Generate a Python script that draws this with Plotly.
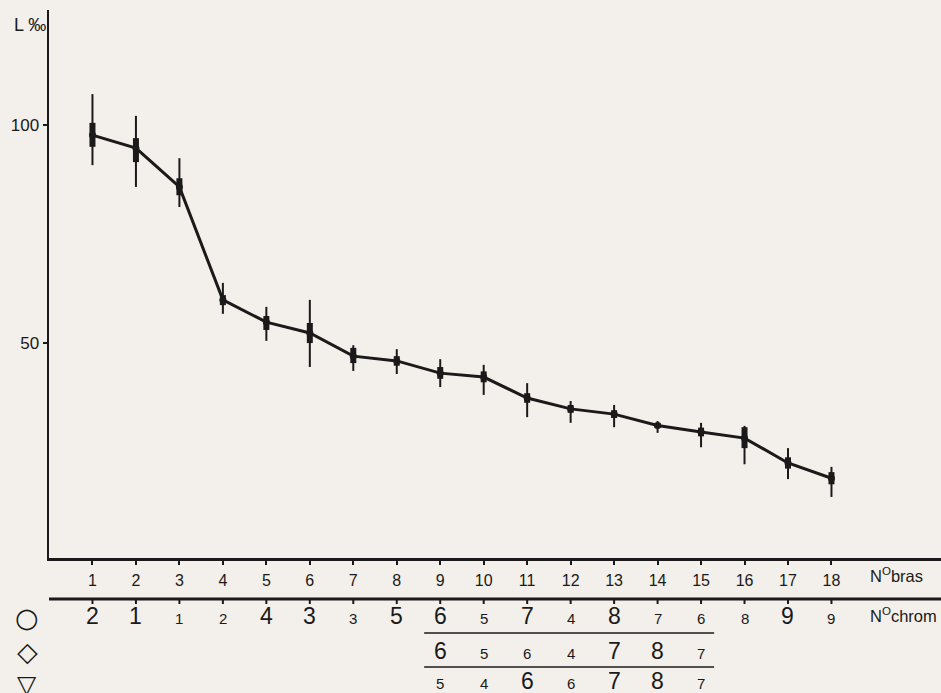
import plotly.graph_objects as go

# ---------------- data ----------------
arm_no = list(range(1, 19))
mean_len = [97.7, 94.7, 85.8, 59.9, 54.8, 52.3, 47.0, 45.9, 43.1, 42.2, 37.4, 34.9, 33.7, 31.1, 29.6, 28.2, 22.5, 19.0]
range_hi = [107.1, 102.1, 92.4, 63.8, 58.3, 59.9, 49.5, 48.6, 46.3, 45.0, 40.8, 36.7, 35.8, 32.1, 31.7, 31.0, 25.9, 21.6]
range_lo = [90.8, 85.8, 81.2, 56.7, 50.5, 44.5, 43.6, 42.9, 39.9, 38.1, 33.0, 31.7, 30.7, 29.4, 26.1, 22.2, 18.8, 14.7]
sd_hi = [100.5, 97.0, 87.8, 61.0, 56.2, 54.6, 48.9, 47.0, 44.5, 43.5, 38.5, 35.8, 34.6, 31.7, 30.6, 30.7, 23.8, 20.4]
sd_lo = [95.0, 91.5, 83.9, 58.7, 53.0, 50.0, 45.4, 44.8, 41.8, 41.0, 36.3, 34.0, 32.8, 30.5, 28.6, 25.9, 21.2, 17.6]

y_ticks = [50, 100]

# chromosome numbers (row: circle)
chrom_circle = ["2", "1", "1", "2", "4", "3", "3", "5", "6", "5", "7", "4", "8", "7", "6", "8", "9", "9"]
big_circle = [1, 1, 0, 0, 1, 1, 0, 1, 1, 0, 1, 0, 1, 0, 0, 0, 1, 0]
# rows diamond / triangle (arms 9..15)
sub_arms = [9, 10, 11, 12, 13, 14, 15]
chrom_diamond = ["6", "5", "6", "4", "7", "8", "7"]
big_diamond = [1, 0, 0, 0, 1, 1, 0]
chrom_triangle = ["5", "4", "6", "6", "7", "8", "7"]
big_triangle = [0, 0, 1, 0, 1, 1, 0]

# ---------------- geometry helpers ----------------
W, H = 941, 693
ML, MR, MT, MB = 49, 0, 10, 135
PW, PH = W - ML - MR, H - MT - MB
X_PX_PER_UNIT = 43.47
Y_PX_PER_UNIT = 4.36
X_RANGE = [0, PW / X_PX_PER_UNIT]
Y_RANGE = [0.7, 0.7 + PH / Y_PX_PER_UNIT]


def py(pix_y):
    """page pixel y -> paper y"""
    return (H - MB - pix_y) / PH


def px(pix_x):
    """page pixel x -> paper x"""
    return (pix_x - ML) / PW


INK = "#1b1919"
BG = "#f3f0eb"
FONT = "Liberation Sans, Arial, Helvetica, sans-serif"

fig = go.Figure()

# thin range bars + connecting line
fig.add_trace(go.Scatter(
    x=arm_no, y=mean_len, mode="lines",
    line=dict(color=INK, width=3),
    error_y=dict(type="data", symmetric=False,
                 array=[h - m for h, m in zip(range_hi, mean_len)],
                 arrayminus=[m - l for m, l in zip(mean_len, range_lo)],
                 color=INK, thickness=2, width=0),
    hoverinfo="skip", showlegend=False,
))
# thick (sd) bars
sd_mid = [(h + l) / 2 for h, l in zip(sd_hi, sd_lo)]
fig.add_trace(go.Scatter(
    x=arm_no, y=sd_mid, mode="markers",
    marker=dict(size=1, color=INK),
    error_y=dict(type="data", symmetric=False,
                 array=[h - m for h, m in zip(sd_hi, sd_mid)],
                 arrayminus=[m - l for m, l in zip(sd_mid, sd_lo)],
                 color=INK, thickness=6, width=0),
    hoverinfo="skip", showlegend=False,
))
fig.add_trace(go.Scatter(
    x=arm_no, y=mean_len, mode="markers",
    marker=dict(size=7, color=INK),
    hoverinfo="skip", showlegend=False,
))

shapes = []
annotations = []

# second baseline (N° chrom axis) with ticks
shapes.append(dict(type="line", xref="paper", yref="paper",
                   x0=0, x1=1, y0=py(599), y1=py(599),
                   line=dict(color=INK, width=3)))
for a in arm_no:
    shapes.append(dict(type="line", xref="x", yref="paper",
                       x0=a, x1=a, y0=py(599), y1=py(604),
                       line=dict(color=INK, width=2)))

# separator lines under circle & diamond rows
for yy in (633, 667):
    shapes.append(dict(type="line", xref="x", yref="paper",
                       x0=sub_arms[0] - 0.37, x1=sub_arms[-1] + 0.3,
                       y0=py(yy), y1=py(yy),
                       line=dict(color=INK, width=1.3)))


def add_row(xs, labels, bigs, y_pix):
    for x, t, b in zip(xs, labels, bigs):
        annotations.append(dict(
            x=x, y=py(y_pix + (0 if b else 2)), xref="x", yref="paper",
            text=t, showarrow=False, xanchor="center", yanchor="middle",
            font=dict(family=FONT, size=23 if b else 15, color=INK)))


add_row(arm_no, chrom_circle, big_circle, 616)
add_row(sub_arms, chrom_diamond, big_diamond, 651)
add_row(sub_arms, chrom_triangle, big_triangle, 681)

# row symbols
for sym, yy, sz in (("○", 617, 27), ("◇", 651, 27), ("▽", 684, 25)):
    annotations.append(dict(x=px(27), y=py(yy), xref="paper", yref="paper",
                            text=sym, showarrow=False, xanchor="center", yanchor="middle",
                            font=dict(family="DejaVu Sans", size=sz, color=INK)))

# row titles
annotations.append(dict(x=px(868), y=py(575), xref="paper", yref="paper",
                        text="N<sup>O</sup>bras", showarrow=False,
                        xanchor="left", yanchor="middle",
                        font=dict(family=FONT, size=16.5, color=INK)))
annotations.append(dict(x=px(868), y=py(615), xref="paper", yref="paper",
                        text="N<sup>O</sup>chrom", showarrow=False,
                        xanchor="left", yanchor="middle",
                        font=dict(family=FONT, size=16.5, color=INK)))
# y-axis title
annotations.append(dict(x=px(12), y=py(25), xref="paper", yref="paper",
                        text="L ‰", showarrow=False,
                        xanchor="left", yanchor="middle",
                        font=dict(family=FONT, size=18, color=INK)))

fig.update_layout(
    width=W, height=H,
    margin=dict(l=ML, r=MR, t=MT, b=MB, pad=0),
    paper_bgcolor=BG, plot_bgcolor=BG,
    shapes=shapes, annotations=annotations,
    font=dict(family=FONT, color=INK),
    xaxis=dict(range=X_RANGE, showgrid=False, zeroline=False,
               showline=True, linecolor=INK, linewidth=2.5,
               tickmode="array", tickvals=arm_no, ticktext=[str(a) for a in arm_no],
               ticks="outside", ticklen=4, tickwidth=2, tickcolor=INK,
               tickfont=dict(family=FONT, size=16, color=INK),
               ticklabelstandoff=2),
    yaxis=dict(range=Y_RANGE, showgrid=False, zeroline=False,
               showline=True, linecolor=INK, linewidth=2.5,
               tickmode="array", tickvals=y_ticks, ticktext=[str(v) for v in y_ticks],
               ticks="outside", ticklen=4, tickwidth=2, tickcolor=INK,
               tickfont=dict(family=FONT, size=17, color=INK)),
)

fig.write_html(
    "out.html",
    config={"displayModeBar": False, "staticPlot": True},
    post_script="document.body.style.margin='0';document.body.style.padding='0';"
                "document.body.style.overflow='hidden';document.body.style.background='" + BG + "';",
)
